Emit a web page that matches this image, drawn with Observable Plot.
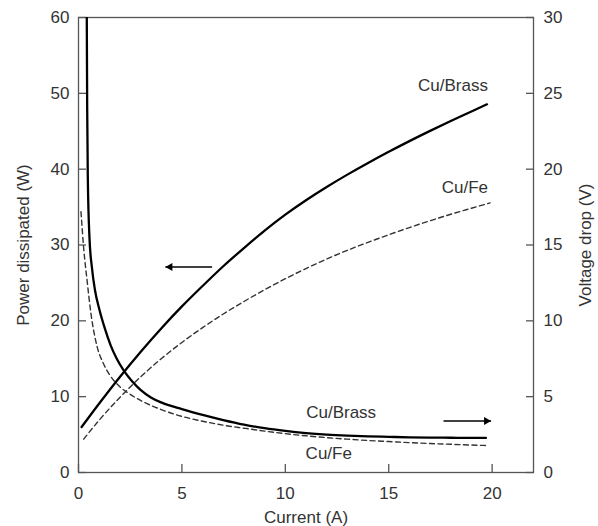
<!DOCTYPE html>
<html><head><meta charset="utf-8">
<script src="https://cdn.jsdelivr.net/npm/d3@7"></script>
<script src="https://cdn.jsdelivr.net/npm/@observablehq/plot@0.6"></script>
<style>body{margin:0;background:#fff}</style>
</head><body><div id="chart"></div>
<script>
// Tick values
const xTicks = [0, 5, 10, 15, 20];
const powerTicks = [0, 10, 20, 30, 40, 50, 60];
const voltageTicks = [0, 5, 10, 15, 20, 25, 30];

// Power dissipated (W) vs current (A)
const powerCuBrass = [[0.15,6.0],[1,9.1],[2,12.6],[3,15.9],[4,19.0],[5,21.9],[6,24.6],[7,27.2],[8,29.6],[9,31.9],[10,34.0],[11,35.9],[12,37.65],[13,39.28],[14,40.82],[15,42.29],[16,43.7],[17,45.05],[18,46.35],[19,47.6],[19.75,48.55]];
const powerCuFe = [[0.25,4.4],[1,6.9],[2,9.9],[3,12.6],[4,15.0],[5,17.15],[6,19.1],[7,20.9],[8,22.55],[9,24.1],[10,25.55],[11,26.9],[12,28.15],[13,29.3],[14,30.35],[15,31.35],[16,32.3],[17,33.2],[18,34.05],[19,34.85],[19.9,35.55]];

// Voltage drop (V) vs current (A)
const voltageCuBrass = [[0.40,30],[0.42,24],[0.45,19.5],[0.53,15.5],[0.65,13.5],[0.8,12.0],[1.0,10.8],[1.25,9.6],[1.55,8.4],[1.85,7.5],[2.2,6.7],[2.6,6.0],[3.0,5.45],[3.5,4.95],[4,4.62],[5,4.18],[6,3.8],[7,3.46],[8,3.16],[9,2.92],[10,2.74],[11,2.6],[12,2.5],[13,2.43],[14,2.38],[15,2.35],[16,2.32],[17,2.3],[18,2.29],[19,2.28],[19.7,2.28]];
const voltageCuFe = [[0.12,17.2],[0.25,14.8],[0.42,12.6],[0.6,10.5],[0.9,8.3],[1.2,7.2],[1.5,6.45],[2.0,5.65],[2.5,5.15],[3.0,4.75],[4.0,4.15],[5.0,3.7],[6.0,3.38],[7,3.12],[8,2.92],[9,2.73],[10,2.56],[11,2.42],[12,2.3],[13,2.2],[14,2.11],[15,2.04],[16,1.97],[17,1.91],[18,1.86],[19,1.81],[19.7,1.78]];

// Annotation labels (x in A, y in W-axis units)
const labelTexts = ["Cu/Brass", "Cu/Fe", "Cu/Brass", "Cu/Fe"];
const labelX = [19.8, 19.8, 12.7, 12.1];
const labelY = [51.0, 37.6, 7.9, 2.55];
const labelAlign = ["end", "end", "middle", "middle"];

// Arrows (x from -> to, y in W-axis units)
const arrowX1 = [6.46, 17.65];
const arrowX2 = [4.2, 19.95];
const arrowY = [27.1, 6.8];

const V_TO_W = 2; // right axis 0–30 V shares the 0–60 W scale

const pts = a => a.map(([x, y]) => ({x, y}));
const vpts = a => a.map(([x, v]) => ({x, y: v * V_TO_W}));
const labels = labelTexts.map((t, i) => ({t, x: labelX[i], y: labelY[i], a: labelAlign[i]}));
const arrows = arrowX1.map((x1, i) => ({x1, x2: arrowX2[i], y: arrowY[i], dir: arrowX2[i] > x1 ? 1 : -1}));

const axisGray = "#555";
const textColor = "#333";

const chart = Plot.plot({
  width: 598, height: 526,
  marginLeft: 78, marginRight: 65, marginTop: 17, marginBottom: 54,
  style: {fontFamily: "'Liberation Sans', Arial, sans-serif", fontSize: "17px", color: textColor, background: "#fff"},
  x: {domain: [0, 22]},
  y: {domain: [0, 60]},
  marks: [
    Plot.frame({stroke: axisGray, strokeWidth: 1.3}),
    // bottom axis
    Plot.axisX({ticks: xTicks, tickSize: 0, tickPadding: 14, label: "Current (A)", labelAnchor: "center", labelOffset: 50, labelArrow: "none", color: textColor}),
    Plot.axisX({ticks: xTicks, tickSize: 8, dy: -8, fill: "none", stroke: axisGray, strokeWidth: 1.3, label: null}),
    // left axis
    Plot.axisY({anchor: "left", ticks: powerTicks, tickSize: 0, tickPadding: 9, label: "Power dissipated (W)", labelAnchor: "center", labelOffset: 62, labelArrow: "none", color: textColor}),
    Plot.axisY({anchor: "left", ticks: powerTicks, tickSize: 8, dx: 8, fill: "none", stroke: axisGray, strokeWidth: 1.3, label: null}),
    // right axis (voltage)
    Plot.axisY({anchor: "right", ticks: voltageTicks.map(v => v * V_TO_W), tickFormat: d => d / V_TO_W, tickSize: 0, tickPadding: 10, label: "Voltage drop (V)", labelAnchor: "center", labelOffset: 57, labelArrow: "none", color: textColor}),
    Plot.axisY({anchor: "right", ticks: voltageTicks.map(v => v * V_TO_W), tickSize: 8, dx: -8, fill: "none", stroke: axisGray, strokeWidth: 1.3, label: null}),
    // curves
    Plot.line(pts(powerCuBrass), {x: "x", y: "y", stroke: "#000", strokeWidth: 2.3, curve: "monotone-x"}),
    Plot.line(pts(powerCuFe), {x: "x", y: "y", stroke: "#333", strokeWidth: 1.4, strokeDasharray: "5,3.5", curve: "monotone-x"}),
    Plot.line(vpts(voltageCuBrass), {x: "x", y: "y", stroke: "#000", strokeWidth: 2.3, curve: "monotone-x", clip: true}),
    Plot.line(vpts(voltageCuFe), {x: "x", y: "y", stroke: "#333", strokeWidth: 1.4, strokeDasharray: "5,3.5", curve: "monotone-x"}),
    // annotations
    Plot.text(labels.filter(d => d.a === "end"), {x: "x", y: "y", text: "t", textAnchor: "end", fill: textColor, fontSize: 17}),
    Plot.text(labels.filter(d => d.a === "middle"), {x: "x", y: "y", text: "t", textAnchor: "middle", fill: textColor, fontSize: 17}),
    Plot.link(arrows, {x1: "x1", x2: "x2", y1: "y", y2: "y", stroke: "#000", strokeWidth: 1.4}),
    Plot.dot(arrows.filter(d => d.dir > 0), {x: "x2", y: "y", symbol: "triangle", r: 3, fill: "#000", stroke: "none", rotate: 90, dx: -4.7}),
    Plot.dot(arrows.filter(d => d.dir < 0), {x: "x2", y: "y", symbol: "triangle", r: 3, fill: "#000", stroke: "none", rotate: -90, dx: 4.7})
  ]
});
document.getElementById("chart").append(chart);
</script>
</body></html>
